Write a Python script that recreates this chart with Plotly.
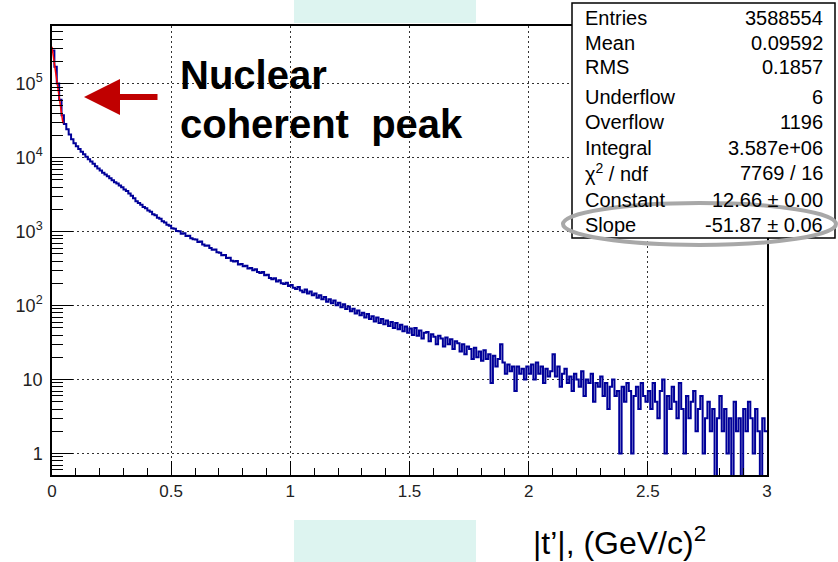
import plotly.graph_objects as go

# ---------------- data ----------------
BIN_W = 0.01
counts = [
    280000, 170000, 101000, 60500, 37500, 28500, 24200, 20600, 17800, 15700,
    14300, 13100, 12000, 11100, 10300, 9550, 8900, 8250, 7650, 7150,
    6700, 6250, 5900, 5600, 5250, 4950, 4650, 4480, 4200, 3980,
    3720, 3540, 3280, 3050, 2830, 2580, 2440, 2310, 2150, 2070,
    1930, 1850, 1720, 1660, 1540, 1490, 1380, 1330, 1240, 1200,
    1110, 1095, 1020, 1010, 940, 950, 870, 880, 815, 790,
    785, 725, 735, 670, 645, 650, 600, 570, 575, 525,
    520, 480, 485, 440, 445, 405, 395, 400, 360, 365,
    340, 345, 318, 322, 300, 310, 285, 276, 284, 258,
    262, 236, 228, 234, 212, 220, 200, 196, 204, 184,
    190, 174, 168, 178, 160, 152, 165, 146, 155, 138,
    146, 128, 138, 122, 131, 113, 122, 108, 117, 101,
    109, 95, 104, 90, 97, 84, 91, 78, 86, 74,
    80, 69, 77, 66, 72, 61, 69, 58, 66, 56,
    63, 53, 60, 50, 58, 48, 55, 45, 52, 43,
    49, 40, 50, 39, 46, 36, 43, 44, 33, 41,
    38, 30, 39, 36, 28, 37, 30, 35, 26, 33,
    31, 24, 30, 22, 28, 26, 19, 27, 20, 24,
    18, 25, 19, 22, 9, 21, 15, 19, 30, 17,
    12, 16, 13, 15, 7, 15, 12, 14, 10, 15,
    12, 16, 10, 17, 12, 15, 9, 14, 11, 13,
    22, 11, 15, 8, 12, 14, 9, 11, 7, 12,
    10, 8, 13, 6, 10, 9, 12, 5, 9, 8,
    11, 6, 9, 4, 8, 10, 6, 7, 1, 8,
    5, 9, 7, 1, 6, 8, 4, 9, 6, 5,
    7, 4, 9, 5, 3, 7, 10, 1, 6, 4,
    8, 5, 3, 9, 4, 1, 6, 3, 5, 7,
    2, 4, 6, 1, 3, 5, 2, 4, 0, 3,
    6, 2, 4, 1, 3, 0, 5, 2, 3, 0,
    4, 2, 5, 3, 1, 4, 2, 0, 3, 2,
]
fit_t = [0.0, 0.01, 0.02, 0.03, 0.04, 0.046]
fit_y = [315000, 187500, 111600, 66400, 39500, 29000]

stat_names = ["Entries", "Mean", "RMS", "Underflow", "Overflow", "Integral",
              "χ<sup>2</sup> / ndf", "Constant", "Slope"]
stat_values = ["3588554", "0.09592", "0.1857", "6", "1196", "3.587e+06",
               "7769 / 16", "12.66 ± 0.00", "-51.87 ± 0.06"]
stat_rows_y = [18, 43, 67, 97, 122, 148, 173, 200, 225]

y_tickvals = [1, 10, 100, 1000, 10000, 100000]
y_ticktext = ["1", "10", "10<sup>2</sup>", "10<sup>3</sup>", "10<sup>4</sup>", "10<sup>5</sup>"]
x_title = "|t’|, (GeV/c)<sup>2</sup>"

# ---------------- layout helpers ----------------
W, H = 838, 562
L, R, T, B = 52, 767, 26, 475
def px(x):
    return (x - L) / (R - L)
def py(y):
    return (B - y) / (B - T)

edges = [round(i * BIN_W, 4) for i in range(len(counts) + 1)]
shown = [c if c > 0 else 0.3 for c in counts]  # empty bins drop below the axis
shown = shown + [shown[-1]]

fig = go.Figure()
fig.add_trace(go.Scatter(x=edges, y=shown, mode="lines", line_shape="hv",
                         line=dict(color="#000099", width=2), showlegend=False,
                         hoverinfo="skip"))
fig.add_trace(go.Scatter(x=fit_t, y=fit_y, mode="lines",
                         line=dict(color="#ff0000", width=1.5), showlegend=False,
                         hoverinfo="skip"))

minor_y = [m * 10 ** e for e in range(-1, 6) for m in range(2, 10)]
minor_y = [v for v in minor_y if 0.5 < v < 6.1e5]

font_main = "Liberation Sans, Arial, Helvetica, sans-serif"
grid_dash = "2px,3px"

fig.update_layout(
    width=W, height=H,
    margin=dict(l=L, r=W - R, t=T, b=H - B),
    paper_bgcolor="white", plot_bgcolor="white",
    font=dict(family=font_main, color="#222"),
    xaxis=dict(range=[0, 3], showline=True, linecolor="black", linewidth=1.5,
               mirror=True, ticks="inside", ticklen=14, tickcolor="black",
               tickwidth=1.2, dtick=0.5, tick0=0,
               showgrid=True, gridcolor="#333", griddash=grid_dash, gridwidth=1,
               zeroline=False, tickfont=dict(size=17, color="#222"),
               minor=dict(ticks="inside", ticklen=7, dtick=0.1, tickcolor="black",
                          showgrid=False)),
    yaxis=dict(type="log", range=[-0.29, 5.78], showline=True, linecolor="black",
               linewidth=1.5, mirror=True, ticks="inside", ticklen=21,
               tickcolor="black", tickwidth=1.2,
               tickmode="array", tickvals=y_tickvals, ticktext=y_ticktext,
               showgrid=True, gridcolor="#333", griddash=grid_dash, gridwidth=1,
               zeroline=False, tickfont=dict(size=18, color="#222"),
               ticklabelstandoff=4,
               minor=dict(ticks="inside", ticklen=11, tickmode="array",
                          tickvals=minor_y, tickcolor="black", showgrid=False)),
)

shapes = [
    dict(type="rect", xref="paper", yref="paper", x0=px(294), x1=px(476),
         y0=py(23), y1=py(0), fillcolor="rgb(221,244,240)", line=dict(width=0),
         layer="below"),
    dict(type="rect", xref="paper", yref="paper", x0=px(294), x1=px(476),
         y0=py(562), y1=py(520), fillcolor="rgb(221,244,240)", line=dict(width=0),
         layer="below"),
    dict(type="rect", xref="paper", yref="paper", x0=px(572), x1=px(835),
         y0=py(238), y1=py(3), fillcolor="white", line=dict(color="black", width=1.5),
         layer="above"),
    dict(type="circle", xref="paper", yref="paper", x0=px(563), x1=px(836),
         y0=py(245), y1=py(203), line=dict(color="#a8a8a8", width=4),
         layer="above"),
]
fig.update_layout(shapes=shapes)

ann = []
for name, val, yy in zip(stat_names, stat_values, stat_rows_y):
    ann.append(dict(xref="paper", yref="paper", x=px(583), y=py(yy), text=name,
                    showarrow=False, xanchor="left", yanchor="middle",
                    font=dict(size=20, color="black", family=font_main)))
    ann.append(dict(xref="paper", yref="paper", x=px(825), y=py(yy), text=val,
                    showarrow=False, xanchor="right", yanchor="middle",
                    font=dict(size=20, color="black", family=font_main)))

ann.append(dict(xref="paper", yref="paper", x=px(178), y=py(75), text="<b>Nuclear</b>",
                showarrow=False, xanchor="left", yanchor="middle",
                font=dict(size=40, color="black", family=font_main)))
ann.append(dict(xref="paper", yref="paper", x=px(178), y=py(124),
                text="<b>coherent&nbsp;&nbsp;peak</b>",
                showarrow=False, xanchor="left", yanchor="middle",
                font=dict(size=40, color="black", family=font_main)))
ann.append(dict(xref="paper", yref="paper", x=px(84), y=py(97), text="",
                showarrow=True, ax=75, ay=0, arrowcolor="#c00000",
                arrowwidth=6, arrowhead=2, arrowsize=1.2, standoff=0))
ann.append(dict(xref="paper", yref="paper", x=px(531), y=py(541), text=x_title,
                showarrow=False, xanchor="left", yanchor="middle",
                font=dict(size=32, color="black", family=font_main)))
fig.update_layout(annotations=ann)

fig.write_html("out.html")
